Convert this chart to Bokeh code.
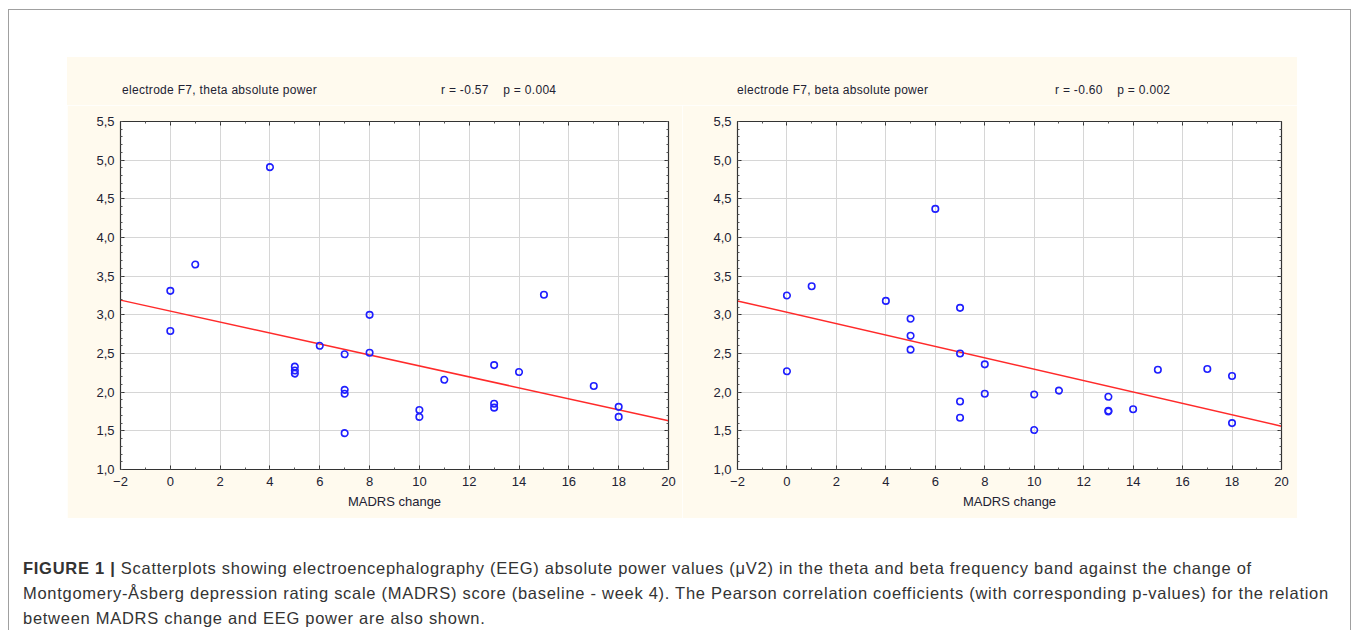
from bokeh.plotting import figure
from bokeh.layouts import column, row
from bokeh.models import (Range1d, FixedTicker, CustomJSTickFormatter,
                          LinearAxis, Spacer, Div)
from bokeh.embed import file_html
from bokeh.resources import INLINE

# ---------------- data ----------------
theta_x = [4, 1, 0, 0, 15, 8, 6, 7, 8, 5, 5, 5, 13, 14, 11, 17, 7, 7, 10, 10, 13, 13, 18, 18, 7]
theta_y = [4.91, 3.65, 3.31, 2.79, 3.26, 3.00, 2.60, 2.49, 2.51, 2.33, 2.28, 2.24, 2.35, 2.26,
           2.16, 2.08, 2.03, 1.98, 1.77, 1.68, 1.85, 1.80, 1.81, 1.68, 1.47]
theta_fit_x = [-2, 20]
theta_fit_y = [3.19, 1.63]

beta_x = [6, 1, 0, 4, 7, 5, 5, 5, 7, 8, 0, 15, 17, 18, 11, 8, 10, 13, 7, 13, 13, 14, 7, 18, 10]
beta_y = [4.37, 3.37, 3.25, 3.18, 3.09, 2.95, 2.73, 2.55, 2.50, 2.36, 2.27, 2.29, 2.30, 2.21,
          2.02, 1.98, 1.97, 1.94, 1.88, 1.76, 1.75, 1.78, 1.67, 1.60, 1.51]
beta_fit_x = [-2, 20]
beta_fit_y = [3.18, 1.56]

x_ticks = [-2, 0, 2, 4, 6, 8, 10, 12, 14, 16, 18, 20]
y_ticks = [1.0, 1.5, 2.0, 2.5, 3.0, 3.5, 4.0, 4.5, 5.0, 5.5]
x_axis_label = "MADRS change"

titles = ["electrode F7, theta absolute power", "electrode F7, beta absolute power"]
stats = ["r = -0.57&nbsp;&nbsp;&nbsp;&nbsp;p = 0.004", "r = -0.60&nbsp;&nbsp;&nbsp;&nbsp;p = 0.002"]

caption_bold = "FIGURE 1 |"
caption_lines = [
    " Scatterplots showing electroencephalography (EEG) absolute power values (\u03bcV2) in the theta and beta frequency band against the change of",
    "Montgomery-\u00c5sberg depression rating scale (MADRS) score (baseline - week 4). The Pearson correlation coefficients (with corresponding p-values) for the relation",
    "between MADRS change and EEG power are also shown.",
]

CREAM = "#fffaee"
FONT = "Liberation Sans"
TXT = "#222233"


def make_panel(xs, ys, fx, fy, bl, br):
    p = figure(width=615, height=413, output_backend="svg", toolbar_location=None,
               x_range=Range1d(-2, 20), y_range=Range1d(1.0, 5.5),
               min_border_left=bl, min_border_right=br, min_border_top=16,
               min_border_bottom=49, background_fill_color="white",
               border_fill_color=CREAM, outline_line_color="#333333",
               outline_line_width=1.2)
    xt = FixedTicker(ticks=x_ticks, minor_ticks=list(range(-2, 21)))
    yt = FixedTicker(ticks=y_ticks, minor_ticks=[round(1.0 + 0.1 * i, 2) for i in range(46)])
    fmt = CustomJSTickFormatter(code="return tick.toFixed(1).replace('.', ',');")
    blank = CustomJSTickFormatter(code="return '';")

    xb = p.below[0]
    yl = p.left[0]
    xb.ticker = xt
    yl.ticker = yt
    yl.formatter = fmt
    p.xgrid.ticker = xt
    p.ygrid.ticker = yt
    p.grid.grid_line_color = "#d6d6d6"
    p.grid.grid_line_width = 1

    extra_r = LinearAxis(ticker=yt, formatter=blank, major_label_standoff=0)
    extra_t = LinearAxis(ticker=xt, formatter=blank, major_label_standoff=0)
    p.add_layout(extra_r, "right")
    p.add_layout(extra_t, "above")
    for ax in (xb, yl, extra_r, extra_t):
        ax.axis_line_color = "#333333"
        ax.major_tick_in = 4
        ax.major_tick_out = 0
        ax.minor_tick_in = 2
        ax.minor_tick_out = 0
        ax.major_tick_line_color = "#333333"
        ax.minor_tick_line_color = "#555555"
        ax.major_label_text_font = FONT
        ax.major_label_text_font_size = "13px"
        ax.major_label_text_color = TXT
    yl.major_label_standoff = 6
    xb.major_label_standoff = 7

    xb.axis_label = x_axis_label
    xb.axis_label_text_font = FONT
    xb.axis_label_text_font_size = "13px"
    xb.axis_label_text_font_style = "normal"
    xb.axis_label_text_color = TXT
    xb.axis_label_standoff = 5

    p.line(fx, fy, line_color="#ff2a2a", line_width=1.5)
    p.scatter(xs, ys, marker="circle", size=6.5, fill_color=None,
              line_color="#1f1fff", line_width=1.6)
    return p


def header(title, stat, pad_left, title_w):
    html = ('<span style="display:inline-block;width:%dpx">%s</span><span>%s</span>'
            % (title_w, title, stat))
    return Div(text=html, width=615, height=48, margin=0,
               styles={"background-color": CREAM, "font-family": FONT,
                       "font-size": "12px", "line-height": "14px", "color": "#222233",
                       "letter-spacing": "0.3px",
                       "padding-left": "%dpx" % pad_left, "padding-top": "26px",
                       "box-sizing": "border-box", "white-space": "nowrap"})


p1 = make_panel(theta_x, theta_y, theta_fit_x, theta_fit_y, 53, 14)
p2 = make_panel(beta_x, beta_y, beta_fit_x, beta_fit_y, 55, 16)
h1 = header(titles[0], stats[0], 55, 319)
h2 = header(titles[1], stats[1], 55, 318)

cap_html = ("<b>" + caption_bold + "</b>" + caption_lines[0] + "<br>" +
            caption_lines[1] + "<br>" + caption_lines[2])
cap = Div(text=cap_html, width=1341, height=112, margin=0,
          styles={"font-family": FONT, "font-size": "16.5px", "line-height": "25px",
                  "letter-spacing": "0.72px", "color": "#333333", "padding-left": "14px",
                  "padding-top": "38px", "box-sizing": "border-box",
                  "white-space": "nowrap"})

inner = column(
    Spacer(width=1341, height=47),
    row(Spacer(width=58, height=461), column(row(h1, h2), row(p1, p2))),
    cap,
    styles={"border-left": "1px solid #a0a0a0", "border-top": "1px solid #a0a0a0",
            "border-right": "1px solid #a0a0a0"},
)

layout = column(Spacer(height=9), row(Spacer(width=8, height=10), inner))

open("out.html", "w").write(file_html(layout, INLINE))
